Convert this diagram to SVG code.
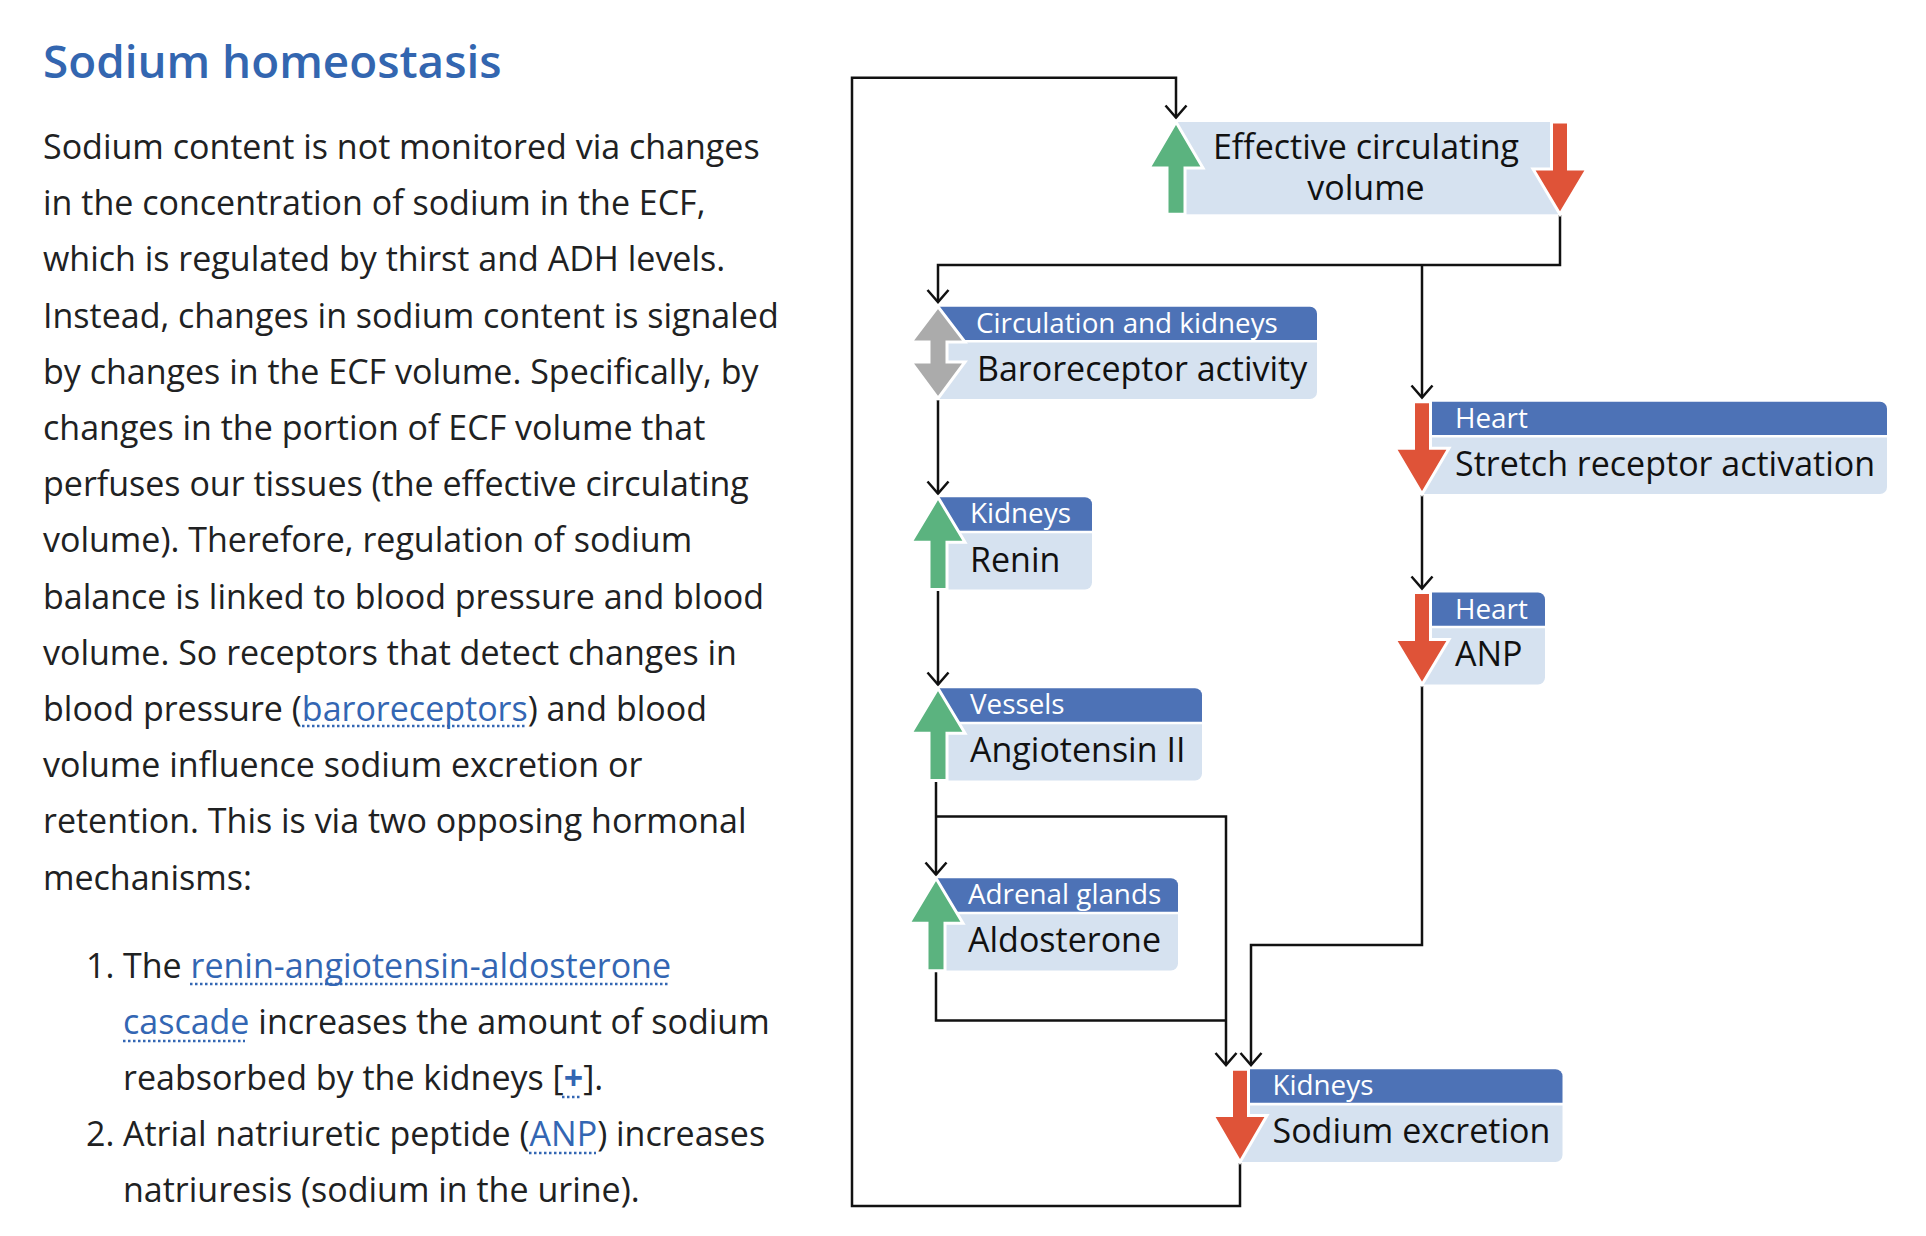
<svg xmlns="http://www.w3.org/2000/svg" width="1926" height="1236" viewBox="0 0 1926 1236">
<defs>
<style>
.title{font-family:"Open Sans","Noto Sans","Liberation Sans",sans-serif;font-size:45.8px;font-weight:600;fill:#3366b0}
.p{font-family:"Open Sans","Noto Sans","Liberation Sans",sans-serif;font-size:34px;fill:#202122}
.lk{fill:#3366b3}
.ul{stroke:#3366b3;stroke-width:2.5;stroke-dasharray:2.5 2.5;fill:none}
.hdr{fill:#4d72b6}
.bdy{fill:#d6e2f0}
.ht{font-family:"Open Sans","Noto Sans","Liberation Sans",sans-serif;font-size:27.8px;fill:#ffffff}
.bt{font-family:"Open Sans","Noto Sans","Liberation Sans",sans-serif;font-size:34px;fill:#111111}
.up{fill:#5bb37f;stroke:#ffffff;stroke-width:3}
.dn{fill:#df5338;stroke:#ffffff;stroke-width:3}
.both{fill:#ababab;stroke:#ffffff;stroke-width:3}
.cn{fill:none;stroke:#111111;stroke-width:2.5}
</style>
<marker id="ah" markerUnits="userSpaceOnUse" markerWidth="30" markerHeight="30" viewBox="-15 -15 30 30" refX="0" refY="0" orient="auto" overflow="visible">
<path d="M-12,-10.5 L0,0 L-12,10.5" fill="none" stroke="#111111" stroke-width="2.5"/>
</marker>
</defs>
<rect width="1926" height="1236" fill="#ffffff"/>

<g id="text">
<text class="title" x="43" y="78">Sodium homeostasis</text>
<text class="p" x="43" y="159">Sodium content is not monitored via changes</text>
<text class="p" x="43" y="215.2">in the concentration of sodium in the ECF,</text>
<text class="p" x="43" y="271.4">which is regulated by thirst and ADH levels.</text>
<text class="p" x="43" y="327.6">Instead, changes in sodium content is signaled</text>
<text class="p" x="43" y="383.8">by changes in the ECF volume. Specifically, by</text>
<text class="p" x="43" y="440">changes in the portion of ECF volume that</text>
<text class="p" x="43" y="496.2">perfuses our tissues (the effective circulating</text>
<text class="p" x="43" y="552.4">volume). Therefore, regulation of sodium</text>
<text class="p" x="43" y="608.6">balance is linked to blood pressure and blood</text>
<text class="p" x="43" y="664.8">volume. So receptors that detect changes in</text>
<text class="p" x="43" y="721">blood pressure (<tspan class="lk">baroreceptors</tspan>) and blood</text>
<text class="p" x="43" y="777.2">volume influence sodium excretion or</text>
<text class="p" x="43" y="833.4">retention. This is via two opposing hormonal</text>
<text class="p" x="43" y="889.6">mechanisms:</text>
<text class="p" x="86" y="977.6">1.</text>
<text class="p" x="123" y="977.6">The <tspan class="lk">renin-angiotensin-aldosterone</tspan></text>
<text class="p" x="123" y="1033.8"><tspan class="lk">cascade</tspan> increases the amount of sodium</text>
<text class="p" x="123" y="1090">reabsorbed by the kidneys [<tspan class="lk" font-weight="700">+</tspan>].</text>
<text class="p" x="86" y="1146.2">2.</text>
<text class="p" x="123" y="1146.2">Atrial natriuretic peptide (<tspan class="lk">ANP</tspan>) increases</text>
<text class="p" x="123" y="1202.4">natriuresis (sodium in the urine).</text>
<line class="ul" x1="302" y1="726" x2="526" y2="726"/>
<line class="ul" x1="190" y1="984" x2="668" y2="984"/>
<line class="ul" x1="123" y1="1041" x2="245" y2="1041"/>
<line class="ul" x1="562" y1="1097" x2="581" y2="1097"/>
<line class="ul" x1="529" y1="1153" x2="596" y2="1153"/>
</g>

<g id="connectors">
<path class="cn" d="M1240,1163 V1206 H852 V77.7 H1176 V117.5" marker-end="url(#ah)"/>
<path class="cn" d="M1560,215 V265 H938 V302" marker-end="url(#ah)"/>
<path class="cn" d="M1422,265 V397.5" marker-end="url(#ah)"/>
<path class="cn" d="M938,400 V493.5" marker-end="url(#ah)"/>
<path class="cn" d="M938,590 V684.5" marker-end="url(#ah)"/>
<path class="cn" d="M1422,495 V588.5" marker-end="url(#ah)"/>
<path class="cn" d="M936,781 V874.5" marker-end="url(#ah)"/>
<path class="cn" d="M936,816.5 H1226 V1065" marker-end="url(#ah)"/>
<path class="cn" d="M936,971 V1020.5 H1226"/>
<path class="cn" d="M1422,686 V945 H1251 V1065" marker-end="url(#ah)"/>
</g>

<g id="node-ecv">
<rect class="bdy" x="1176" y="122" width="384" height="92.3"/>
<polygon class="up" points="1176,122 1203,168 1185,168 1185,214.3 1167,214.3 1167,168 1149,168"/>
<polygon class="dn" points="1551.5,122 1568.5,122 1568.5,169 1587,169 1560,214.3 1533,169 1551.5,169"/>
<text class="bt" text-anchor="middle"><tspan x="1366" y="158.5">Effective circulating</tspan><tspan x="1366" y="199.5">volume</tspan></text>
</g>

<g id="node-baroreceptor">
<path class="hdr" d="M938,306.7 H1310 a7,7 0 0 1 7,7 V340 H938 Z"/>
<path class="bdy" d="M938,342.5 H1317 V392 a7,7 0 0 1 -7,7 H938 Z"/>
<polygon class="both" points="938,306.7 965,342 947,342 947,362 965,362 938,398.5 911,362 929,362 929,342 911,342"/>
<text class="ht" x="976" y="333">Circulation and kidneys</text>
<text class="bt" x="977" y="380.5">Baroreceptor activity</text>
</g>

<g id="node-stretch">
<path class="hdr" d="M1422,401.7 H1880 a7,7 0 0 1 7,7 V435 H1422 Z"/>
<path class="bdy" d="M1422,437.5 H1887 V487 a7,7 0 0 1 -7,7 H1422 Z"/>
<polygon class="dn" points="1413.5,401.7 1430.5,401.7 1430.5,448.3 1449,448.3 1422,494 1395,448.3 1413.5,448.3"/>
<text class="ht" x="1455" y="428">Heart</text>
<text class="bt" x="1455" y="475.5">Stretch receptor activation</text>
</g>

<g id="node-renin">
<path class="hdr" d="M938,497.3 H1085 a7,7 0 0 1 7,7 V530.7 H938 Z"/>
<path class="bdy" d="M938,533.3 H1092 V582.5 a7,7 0 0 1 -7,7 H938 Z"/>
<polygon class="up" points="938,497.3 965,542.3 947,542.3 947,589.5 929,589.5 929,542.3 911,542.3"/>
<text class="ht" x="970" y="523">Kidneys</text>
<text class="bt" x="970" y="571.5">Renin</text>
</g>

<g id="node-anp">
<path class="hdr" d="M1422,592.5 H1538 a7,7 0 0 1 7,7 V625.8 H1422 Z"/>
<path class="bdy" d="M1422,628.3 H1545 V677.5 a7,7 0 0 1 -7,7 H1422 Z"/>
<polygon class="dn" points="1413.5,592.5 1430.5,592.5 1430.5,639.5 1449,639.5 1422,684.5 1395,639.5 1413.5,639.5"/>
<text class="ht" x="1455" y="618.5">Heart</text>
<text class="bt" x="1455" y="666">ANP</text>
</g>

<g id="node-angiotensin">
<path class="hdr" d="M938,688.3 H1195 a7,7 0 0 1 7,7 V721.7 H938 Z"/>
<path class="bdy" d="M938,724.2 H1202 V773.5 a7,7 0 0 1 -7,7 H938 Z"/>
<polygon class="up" points="938,688.3 965,733.3 947,733.3 947,780.5 929,780.5 929,733.3 911,733.3"/>
<text class="ht" x="970" y="713.5">Vessels</text>
<text class="bt" x="970" y="762.2">Angiotensin II</text>
</g>

<g id="node-aldosterone">
<path class="hdr" d="M936,878.3 H1171 a7,7 0 0 1 7,7 V911.7 H936 Z"/>
<path class="bdy" d="M936,914.2 H1178 V963.5 a7,7 0 0 1 -7,7 H936 Z"/>
<polygon class="up" points="936,878.3 963,923.3 945,923.3 945,970.7 927,970.7 927,923.3 909,923.3"/>
<text class="ht" x="968" y="903.5">Adrenal glands</text>
<text class="bt" x="968" y="952.2">Aldosterone</text>
</g>

<g id="node-sodium">
<path class="hdr" d="M1240,1069.3 H1555.5 a7,7 0 0 1 7,7 V1102.8 H1240 Z"/>
<path class="bdy" d="M1240,1105.5 H1562.5 V1155 a7,7 0 0 1 -7,7 H1240 Z"/>
<polygon class="dn" points="1231.5,1069.3 1248.5,1069.3 1248.5,1115.5 1267,1115.5 1240,1162 1213,1115.5 1231.5,1115.5"/>
<text class="ht" x="1272.5" y="1095">Kidneys</text>
<text class="bt" x="1272.5" y="1143.2">Sodium excretion</text>
</g>
</svg>
